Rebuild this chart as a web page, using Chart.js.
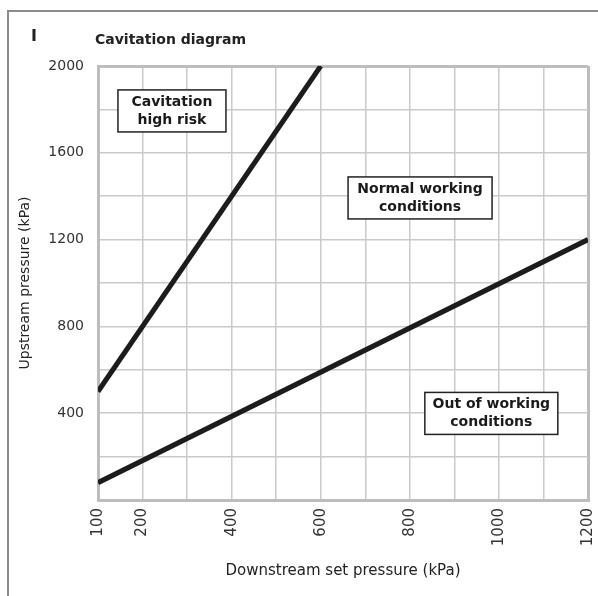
<!DOCTYPE html>
<html>
<head>
<meta charset="utf-8">
<script src="https://cdn.jsdelivr.net/npm/chart.js@4"></script>
<style>
  html, body { margin: 0; padding: 0; background: #fff; }
  #wrap { width: 598px; height: 596px; position: relative; }
</style>
</head>
<body>
<div id="wrap"><canvas id="cavChart"></canvas></div>
<script>
// limit lines of the cavitation diagram (kPa)
const riskX = [100, 600];
const riskY = [500, 2000];
const limitX = [100, 1200];
const limitY = [80, 1200];

// tick values that carry a label
const xTickLabels = [100, 200, 400, 600, 800, 1000, 1200];
const yTickLabels = [400, 800, 1200, 1600, 2000];

const zoneText = [
  ['Cavitation', 'high risk'],
  ['Normal working', 'conditions'],
  ['Out of working', 'conditions']
];

const FONT = '"DejaVu Sans", sans-serif';

function toPoints(xs, ys) {
  return xs.map((x, i) => ({ x: x, y: ys[i] }));
}

// boxed zone labels, anchored in data units
const zones = [
  { text: zoneText[0], x: 266, y: 1793, w: 108 },
  { text: zoneText[1], x: 823, y: 1392, w: 144 },
  { text: zoneText[2], x: 983, y: 399, w: 133 }
];

const decorations = {
  id: 'decorations',
  afterDraw(chart) {
    const c = chart.ctx;
    const xs = chart.scales.x, ys = chart.scales.y;
    c.save();

    // page frame
    c.strokeStyle = '#8c8c8c';
    c.lineWidth = 2;
    c.beginPath();
    c.moveTo(598, 11);
    c.lineTo(8, 11);
    c.lineTo(8, 596);
    c.stroke();

    // panel letter and heading
    c.fillStyle = '#222';
    c.textBaseline = 'middle';
    c.textAlign = 'left';
    c.font = 'bold 16px ' + FONT;
    c.fillText('I', 31, 37);
    c.font = 'bold 14px ' + FONT;
    c.fillText('Cavitation diagram', 95, 40);

    // zone boxes
    c.font = 'bold 14px ' + FONT;
    c.textAlign = 'center';
    zones.forEach(z => {
      const cx = xs.getPixelForValue(z.x);
      const cy = ys.getPixelForValue(z.y);
      const h = 42;
      c.fillStyle = '#fff';
      c.fillRect(cx - z.w / 2, cy - h / 2, z.w, h);
      c.strokeStyle = '#222';
      c.lineWidth = 1.5;
      c.strokeRect(cx - z.w / 2, cy - h / 2, z.w, h);
      c.fillStyle = '#1a1a1a';
      c.fillText(z.text[0], cx, cy - 9);
      c.fillText(z.text[1], cx, cy + 9);
    });
    c.restore();
  }
};

const edgeWidth = (ctx, n) => (ctx.index === 0 || ctx.index === n) ? 3 : 1.5;
const edgeColor = (ctx, n) => (ctx.index === 0 || ctx.index === n) ? '#bdbdbd' : '#cacaca';

new Chart(document.getElementById('cavChart'), {
  type: 'line',
  data: {
    datasets: [
      { data: toPoints(riskX, riskY), borderColor: '#1c1c1c', borderWidth: 5, pointRadius: 0 },
      { data: toPoints(limitX, limitY), borderColor: '#1c1c1c', borderWidth: 5, pointRadius: 0 }
    ]
  },
  options: {
    responsive: true,
    maintainAspectRatio: false,
    animation: false,
    layout: { padding: { top: 66, right: 10, left: 0, bottom: 0 } },
    plugins: {
      legend: { display: false },
      tooltip: { enabled: false }
    },
    scales: {
      x: {
        type: 'linear',
        min: 100,
        max: 1200,
        afterFit: s => { s.height = 96; s.paddingLeft = 0; s.paddingRight = 0; },
        border: { display: true, color: '#bdbdbd', width: 3 },
        grid: {
          drawTicks: false,
          color: ctx => edgeColor(ctx, 11),
          lineWidth: ctx => edgeWidth(ctx, 11)
        },
        ticks: {
          stepSize: 100,
          autoSkip: false,
          maxRotation: 90,
          minRotation: 90,
          padding: 8,
          color: '#333',
          font: { family: FONT, size: 15 },
          callback: v => xTickLabels.includes(v) ? String(v) : ''
        },
        title: {
          display: true,
          text: 'Downstream set pressure (kPa)',
          color: '#222',
          font: { family: FONT, size: 15 },
          padding: { top: 0, bottom: 16 }
        }
      },
      y: {
        min: 0,
        max: 2000,
        afterFit: s => { s.width = 98; s.paddingTop = 0; s.paddingBottom = 0; },
        border: { display: true, color: '#bdbdbd', width: 3 },
        grid: {
          drawTicks: false,
          color: ctx => edgeColor(ctx, 10),
          lineWidth: ctx => edgeWidth(ctx, 10)
        },
        ticks: {
          stepSize: 200,
          autoSkip: false,
          padding: 14,
          color: '#333',
          font: { family: FONT, size: 14 },
          callback: v => yTickLabels.includes(v) ? String(v) : ''
        },
        title: {
          display: true,
          text: 'Upstream pressure (kPa)',
          color: '#222',
          font: { family: FONT, size: 14 },
          padding: { top: 17, bottom: 0 }
        }
      }
    }
  },
  plugins: [decorations]
});
</script>
</body>
</html>
